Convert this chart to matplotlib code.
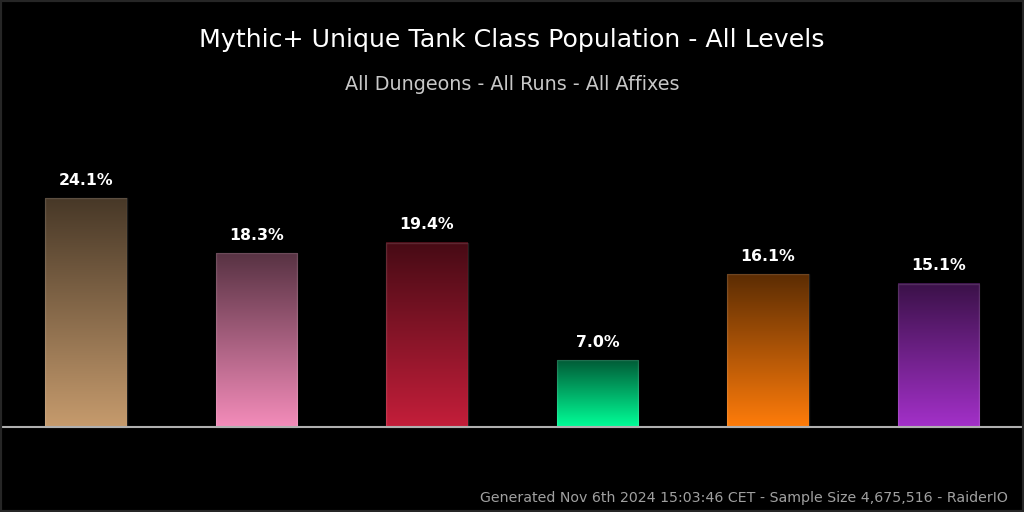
import numpy as np
import matplotlib.pyplot as plt
from matplotlib.colors import LinearSegmentedColormap, to_rgb
from matplotlib.patches import Rectangle

classes = ["Warrior", "Paladin", "Death Knight", "Monk", "Druid", "Demon Hunter"]
shares = [24.1, 18.3, 19.4, 7.0, 16.1, 15.1]
class_colors = ["#C69B6D", "#F48CBA", "#C41E3A", "#00FF98", "#FF7C0A", "#A330C9"]

title = "Mythic+ Unique Tank Class Population - All Levels"
subtitle = "All Dungeons - All Runs - All Affixes"
footer = "Generated Nov 6th 2024 15:03:46 CET - Sample Size 4,675,516 - RaiderIO"

fig = plt.figure(figsize=(10.24, 5.12), dpi=100, facecolor="black")
ax = fig.add_axes([0, 0, 1, 1])
ax.set_facecolor("black")
ax.set_xlim(-0.504, 5.501)
ax.set_ylim(-8.95, 44.95)
ax.axis("off")

width = 0.48
for i, (v, c) in enumerate(zip(shares, class_colors)):
    base = np.array(to_rgb(c))
    cmap = LinearSegmentedColormap.from_list("g", [base * 0.36, base])
    # dark at the top, full class colour at the baseline
    grad = np.linspace(0, 1, 256).reshape(-1, 1)
    ax.imshow(grad, cmap=cmap, aspect="auto", origin="upper",
              extent=(i - width / 2, i + width / 2, 0, v), zorder=2)
    ax.add_patch(Rectangle((i - width / 2, 0), width, v, fill=False,
                           edgecolor=(1, 1, 1, 0.12), linewidth=1, zorder=3))
    ax.text(i, v + 1.1, f"{v:.1f}%", ha="center", va="bottom", color="white",
            fontsize=11.3, fontweight="bold", zorder=4)

ax.axhline(0, color="#b0b0b0", linewidth=1.5, zorder=5)

fig.text(0.5, 1 - 40 / 512, title, ha="center", va="center", color="white", fontsize=18.2)
fig.text(0.5, 1 - 85 / 512, subtitle, ha="center", va="center", color="#c8c8c8", fontsize=13.8)
fig.text(1 - 16 / 1024, 1 - 498 / 512, footer, ha="right", va="center", color="#a0a0a0", fontsize=10.2)

fig.patches.append(Rectangle((0, 0), 1, 1, transform=fig.transFigure, fill=False,
                             edgecolor="#262626", linewidth=3))

fig.savefig("out.png", dpi=100, facecolor="black")
